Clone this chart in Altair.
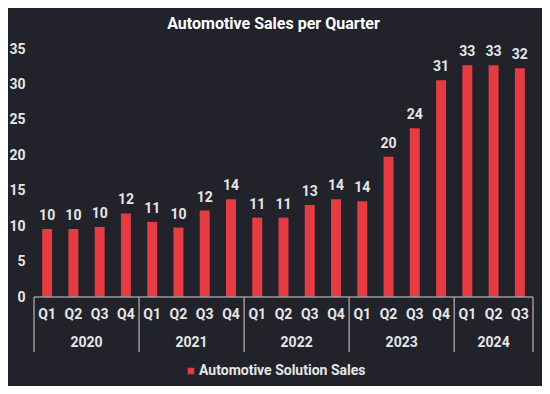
import altair as alt
import pandas as pd

years = ["2020"] * 4 + ["2021"] * 4 + ["2022"] * 4 + ["2023"] * 4 + ["2024"] * 3
quarters = ["Q1", "Q2", "Q3", "Q4"] * 4 + ["Q1", "Q2", "Q3"]
sales = [9.6, 9.6, 9.9, 11.8, 10.6, 9.8, 12.2, 13.8, 11.2, 11.2, 13.0, 13.8,
         13.5, 19.8, 23.8, 30.6, 32.7, 32.7, 32.3]
labels = ["10", "10", "10", "12", "11", "10", "12", "14", "11", "11", "13", "14",
          "14", "20", "24", "31", "33", "33", "32"]
y_ticks = [0, 5, 10, 15, 20, 25, 30, 35]
series_name = "Automotive Solution Sales"

keys = [f"{y}-{q}" for y, q in zip(years, quarters)]
df = pd.DataFrame({"key": keys, "year": years, "quarter": quarters,
                   "sales": sales, "label": labels, "series": series_name})

BG = "#22222b"
RED = "#e53b42"
GRAY = "#9a9a9a"
TXT = "#e6e6e6"
FONT = "Roboto"
FS = 14

W, H = 499, 248

xs = alt.Scale(domain=keys, paddingInner=0, paddingOuter=0)
ys = alt.Scale(domain=[0, 35])
y_axis = alt.Axis(values=y_ticks, tickCount=8, grid=False, labelOverlap=False,
                  domain=False, ticks=False, labelPadding=9,
                  labelColor=TXT, labelFontSize=FS, labelFont=FONT,
                  labelFontWeight="bold", title=None)

base = alt.Chart(df)

bars = base.mark_bar(width=alt.RelativeBandSize(0.38)).encode(
    x=alt.X("key:N", scale=xs, axis=None, sort=keys),
    y=alt.Y("sales:Q", scale=ys, axis=y_axis),
    color=alt.Color("series:N", scale=alt.Scale(range=[RED]),
                    legend=alt.Legend(title=None, orient="none", legendX=150,
                                      legendY=315, symbolType="square",
                                      symbolSize=42, labelColor=TXT,
                                      labelFontSize=FS, labelFont=FONT,
                                      labelFontWeight="bold", padding=0,
                                      labelOffset=1,
                                      labelLimit=400, symbolStrokeWidth=0)),
)

bar_text = base.mark_text(dy=-9, baseline="alphabetic", fontSize=FS,
                          font=FONT, fontWeight="bold", color=TXT).encode(
    x=alt.X("key:N", scale=xs, axis=None, sort=keys),
    y=alt.Y("sales:Q", scale=ys, axis=y_axis),
    text="label:N",
)

q_text = base.mark_text(baseline="middle", fontSize=FS, font=FONT,
                        fontWeight="bold", color=TXT).encode(
    x=alt.X("key:N", scale=xs, axis=None, sort=keys),
    y=alt.value(H + 18),
    text="quarter:N",
)

axis_line = base.transform_aggregate(n="count()").mark_rule(
    color=GRAY, strokeWidth=1.5).encode(
    x=alt.value(0), x2=alt.value(W), y=alt.value(H))

first_q = base.transform_filter(alt.datum.quarter == "Q1")
sep_rules = first_q.mark_rule(color=GRAY, strokeWidth=1.5).encode(
    x=alt.X("key:N", scale=xs, axis=None, sort=keys, bandPosition=0),
    y=alt.value(H),
    y2=alt.value(H + 55),
)
last_q = base.transform_filter(alt.datum.key == keys[-1])
end_rule = last_q.mark_rule(color=GRAY, strokeWidth=1.5).encode(
    x=alt.X("key:N", scale=xs, axis=None, sort=keys, bandPosition=1),
    y=alt.value(H),
    y2=alt.value(H + 55),
)

full_years = base.transform_filter(
    (alt.datum.quarter == "Q3") & (alt.datum.year != "2024"))
year_text_full = full_years.mark_text(baseline="middle", fontSize=FS,
                                      font=FONT, fontWeight="bold",
                                      color=TXT).encode(
    x=alt.X("key:N", scale=xs, axis=None, sort=keys, bandPosition=0),
    y=alt.value(H + 46),
    text="year:N",
)
part_year = base.transform_filter(
    (alt.datum.quarter == "Q2") & (alt.datum.year == "2024"))
year_text_part = part_year.mark_text(baseline="middle", fontSize=FS,
                                     font=FONT, fontWeight="bold",
                                     color=TXT).encode(
    x=alt.X("key:N", scale=xs, axis=None, sort=keys, bandPosition=0.5),
    y=alt.value(H + 46),
    text="year:N",
)

chart = alt.layer(
    bars, bar_text, q_text, axis_line, sep_rules, end_rule,
    year_text_full, year_text_part,
).properties(
    width=W, height=H,
    title=alt.Title("Automotive Sales per Quarter", color="#ffffff",
                    fontSize=16, font=FONT, fontWeight="bold", anchor="middle",
                    offset=10, dx=-10),
    background=BG,
    padding={"left": 26, "top": 41, "right": 9, "bottom": 89},
    autosize=alt.AutoSizeParams(type="none"),
).configure_view(stroke=None)

chart.save("out.html", embed_options={"renderer": "svg", "actions": False})
